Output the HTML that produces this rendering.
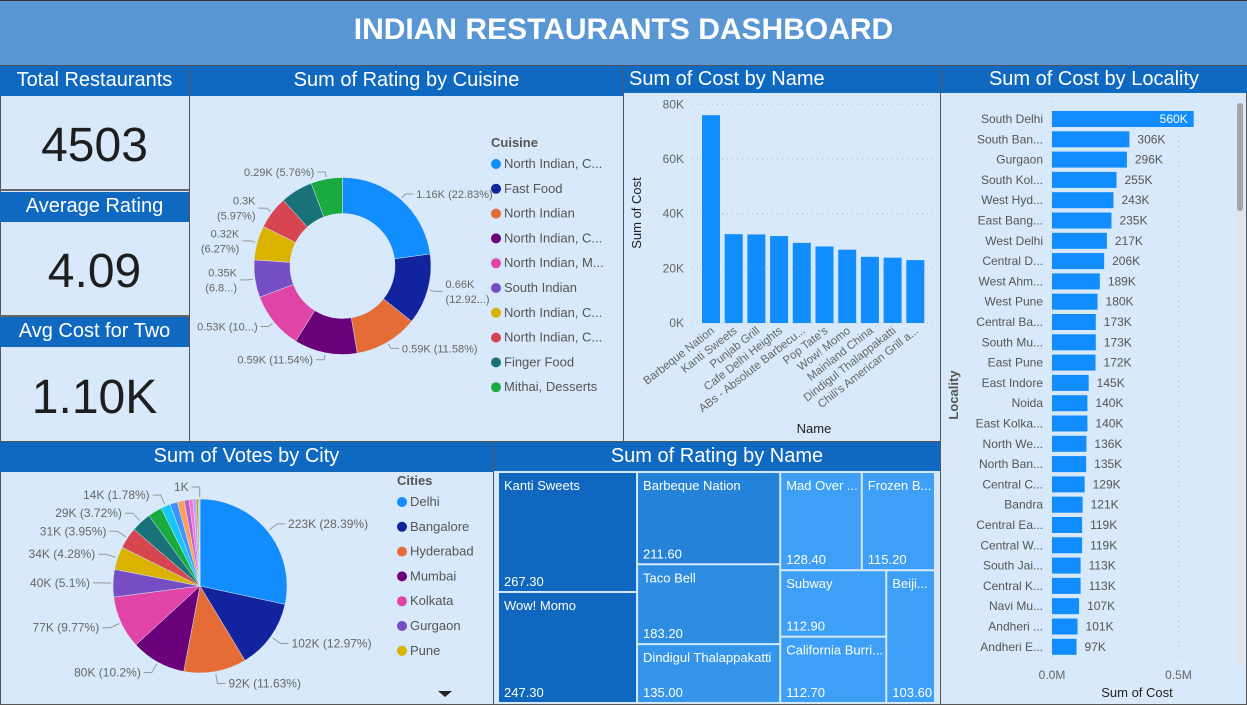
<!DOCTYPE html>
<html><head><meta charset="utf-8">
<style>
*{margin:0;padding:0;box-sizing:border-box}
body{width:1247px;height:705px;background:#d7e9fb;font-family:"Liberation Sans",sans-serif;position:relative;overflow:hidden}
.abs{position:absolute}
.hdr{left:0;top:0;width:1247px;height:65px;background:#5897d3;border-top:1px solid #333;color:#fff;font-weight:bold;font-size:30px;text-align:center;line-height:58px}
.ttl{background:#1069c0;color:#fff;font-size:20px;text-align:center;white-space:nowrap}
.panel{background:#d7e9fb;border:1px solid #555}
.kpi{color:#1e1e1e;text-align:center;font-size:48px}
svg text{font-family:"Liberation Sans",sans-serif}
</style></head><body>
<div class="abs hdr">INDIAN RESTAURANTS DASHBOARD</div>

<div class="abs panel" style="left:0;top:65px;width:190px;height:377px"></div>
<div class="abs ttl" style="left:0;top:66px;width:189px;height:30px;line-height:29px">Total Restaurants</div>
<div class="abs kpi" style="left:0;top:118px;width:189px">4503</div>
<div class="abs" style="left:0;top:189px;width:189px;height:2px;background:#666"></div>
<div class="abs ttl" style="left:0;top:192px;width:189px;height:30px;line-height:29px">Average Rating</div>
<div class="abs kpi" style="left:0;top:244px;width:189px">4.09</div>
<div class="abs" style="left:0;top:315px;width:189px;height:2px;background:#666"></div>
<div class="abs ttl" style="left:0;top:317px;width:189px;height:30px;line-height:29px">Avg Cost for Two</div>
<div class="abs kpi" style="left:0;top:370px;width:189px">1.10K</div>

<div class="abs panel" style="left:189px;top:65px;width:435px;height:377px"></div>
<div class="abs ttl" style="left:190px;top:66px;width:433px;height:30px;line-height:29px">Sum of Rating by Cuisine</div>
<svg class="abs" id="donut" style="left:190px;top:96px" width="433" height="344"></svg>

<div class="abs panel" style="left:623px;top:65px;width:318px;height:377px"></div>
<div class="abs ttl" style="left:624px;top:66px;width:316px;height:27px;line-height:26px;text-align:left;padding-left:5px">Sum of Cost by Name</div>
<svg class="abs" id="bars" style="left:623px;top:93px" width="317" height="348"></svg>

<div class="abs panel" style="left:940px;top:65px;width:307px;height:640px"></div>
<div class="abs ttl" style="left:941px;top:66px;width:306px;height:27px;line-height:27px">Sum of Cost by Locality</div>
<svg class="abs" id="loc" style="left:940px;top:93px" width="307" height="612"></svg>

<div class="abs panel" style="left:0;top:441px;width:494px;height:264px"></div>
<div class="abs ttl" style="left:0;top:442px;width:493px;height:30px;line-height:29px">Sum of Votes by City</div>
<svg class="abs" id="pie" style="left:0;top:472px" width="493" height="233"></svg>

<div class="abs panel" style="left:493px;top:441px;width:448px;height:264px"></div>
<div class="abs ttl" style="left:494px;top:442px;width:446px;height:29px;line-height:28px">Sum of Rating by Name</div>
<svg class="abs" id="tree" style="left:493px;top:471px" width="447" height="234"></svg>

<script>
const cuisineNames=["North Indian,  C...","Fast Food","North Indian","North Indian,  C...","North Indian,  M...","South Indian","North Indian,  C...","North Indian,  C...","Finger Food","Mithai,  Desserts"];
const cuisinePct=[22.83,12.92,11.58,11.54,10.4,6.83,6.27,5.97,5.9,5.76];
const cuisineLabels=["1.16K (22.83%)","0.66K|(12.92...)","0.59K (11.58%)","0.59K (11.54%)","0.53K (10...)","0.35K|(6.8...)","0.32K|(6.27%)","0.3K|(5.97%)","","0.29K (5.76%)"];
const barNames=["Barbeque Nation","Kanti Sweets","Punjab Grill","Cafe Delhi Heights","ABs - Absolute Barbecu...","Pop Tate's","Wow! Momo","Mainland China","Dindigul Thalappakatti","Chili's American Grill a..."];
const barValues=[76000,32500,32400,31800,29300,28000,26800,24200,23900,23000];
const barTicks=[0,20000,40000,60000,80000];
const barTickLabels=["0K","20K","40K","60K","80K"];
const locNames=["South Delhi","South Ban...","Gurgaon","South Kol...","West Hyd...","East Bang...","West Delhi","Central D...","West Ahm...","West Pune","Central Ba...","South Mu...","East Pune","East Indore","Noida","East Kolka...","North We...","North Ban...","Central C...","Bandra","Central Ea...","Central W...","South Jai...","Central K...","Navi Mu...","Andheri ...","Andheri E..."];
const locValues=[560,306,296,255,243,235,217,206,189,180,173,173,172,145,140,140,136,135,129,121,119,119,113,113,107,101,97];
const locTicks=[0,500];
const locTickLabels=["0.0M","0.5M"];
const cityNames=["Delhi","Bangalore","Hyderabad","Mumbai","Kolkata","Gurgaon","Pune"];
const cityPct=[28.39,12.97,11.63,10.2,9.77,5.1,4.28,3.95,3.72,2.6,1.78,1.4,1.3,0.9,0.7,0.6,0.4,0.2,0.11];
const cityLabels=["223K (28.39%)","102K (12.97%)","92K (11.63%)","80K (10.2%)","77K (9.77%)","40K (5.1%)","34K (4.28%)","31K (3.95%)","29K (3.72%)","","14K (1.78%)","","","","","","","","1K"];
const treeNames=["Kanti Sweets","Wow! Momo","Barbeque Nation","Taco Bell","Dindigul Thalappakatti","Mad Over ...","Frozen B...","Subway","California Burri...","Beiji..."];
const treeValues=[267.3,247.3,211.6,183.2,135.0,128.4,115.2,112.9,112.7,103.6];
const treeLabels=["267.30","247.30","211.60","183.20","135.00","128.40","115.20","112.90","112.70","103.60"];

const PAL=["#118DFF","#12239E","#E66C37","#6B007B","#E044A7","#744EC2","#D9B300","#D64550","#197278","#1AAB40","#15C6F4","#4092FF","#FFA058","#BE5DC9","#F472D0","#B5A1FF","#C4A200","#FF8080","#00DBBC","#5BD667"];
const NS="http://www.w3.org/2000/svg";
function mk(parent,tag,attrs,text){const e=document.createElementNS(NS,tag);for(const k in attrs)e.setAttribute(k,attrs[k]);if(text!==undefined)e.textContent=text;parent.appendChild(e);return e;}
function arcPath(cx,cy,r0,r1,a0,a1){
  const p=(r,a)=>[cx+r*Math.sin(a),cy-r*Math.cos(a)];
  const lg=(a1-a0)>Math.PI?1:0;
  const [x1,y1]=p(r1,a0),[x2,y2]=p(r1,a1);
  if(r0<=0)return `M${cx},${cy}L${x1},${y1}A${r1},${r1} 0 ${lg} 1 ${x2},${y2}Z`;
  const [x3,y3]=p(r0,a1),[x4,y4]=p(r0,a0);
  return `M${x1},${y1}A${r1},${r1} 0 ${lg} 1 ${x2},${y2}L${x3},${y3}A${r0},${r0} 0 ${lg} 0 ${x4},${y4}Z`;
}
function pieChart(svg,cx,cy,r0,r1,pcts,labels,nm,fs,lead){
  const tot=pcts.reduce((a,b)=>a+b,0);let a=0;
  pcts.forEach((v,i)=>{
    const a0=a,a1=a+v/tot*2*Math.PI;a=a1;
    const s=mk(svg,'path',{d:arcPath(cx,cy,r0,r1,a0,a1),fill:PAL[i%PAL.length],stroke:'#d7e9fb','stroke-width':0.5});
    
    
    const lab=labels[i];if(!lab)return;
    const m=(a0+a1)/2,sx=Math.sin(m),sy=-Math.cos(m);
    const x1=cx+(r1+2)*sx,y1=cy+(r1+2)*sy,x2=cx+(r1+lead)*sx,y2=cy+(r1+lead)*sy;
    const dir=sx>=0?1:-1,x3=x2+dir*8;
    mk(svg,'polyline',{points:`${x1},${y1} ${x2},${y2} ${x3},${y2}`,fill:'none',stroke:'#999','stroke-width':1});
    const parts=lab.split('|');
    parts.forEach((t,j)=>{
      const tx=mk(svg,'text',{x:x3+dir*3,y:y2+4+(j-(parts.length-1)/2)*15,'font-size':fs,fill:'#666','text-anchor':dir>0?'start':'end'},t);
      
      
    });
  });
}
function legend(svg,x,y,title,names,nm){
  const t=mk(svg,'text',{x:x,y:y,'font-size':13,'font-weight':'bold',fill:'#555'},title);
  
  
  names.forEach((n,i)=>{
    const g=mk(svg,'g',{});
    
    
    mk(g,'circle',{cx:x+5,cy:y+21+i*24.8-4,r:5,fill:PAL[i]});
    mk(g,'text',{x:x+13,y:y+21+i*24.8,'font-size':13,fill:'#555'},n);
  });
}
const dn=document.getElementById('donut');
pieChart(dn,152.5,170,52.5,88.5,cuisinePct,cuisineLabels,'cuisine',11,7);
legend(dn,301,51,'Cuisine',cuisineNames,'cuisine');
const pi=document.getElementById('pie');
pieChart(pi,200,114,0,87,cityPct,cityLabels,'city',12,12);
legend(pi,397,13,'Cities',cityNames,'city');
const arr=mk(pi,'path',{d:'M438,219 L452,219 L445,225 Z',fill:'#222'});



(function(){
  const s=document.getElementById('bars');
  const y0=230,yTop=11.3,maxV=80000;
  const ys=v=>y0-(v/maxV)*(y0-yTop);
  const x0=79,pitch=22.7,bw=18;
  barTicks.forEach((t,i)=>{
    mk(s,'line',{x1:69,x2:312,y1:ys(t),y2:ys(t),stroke:'#bbb','stroke-dasharray':'1,4'});
    const tx=mk(s,'text',{x:61,y:ys(t)+4,'font-size':12,fill:'#666','text-anchor':'end'},barTickLabels[i]);
    
    
  });
  barValues.forEach((v,i)=>{
    const x=x0+i*pitch;
    const r=mk(s,'rect',{x:x,y:ys(v),width:bw,height:y0-ys(v),fill:'#118DFF'});
    
    
    const cx=x+bw/2+4;
    const t=mk(s,'text',{x:cx,y:y0+9,'font-size':11.5,fill:'#666','text-anchor':'end',transform:`rotate(-38 ${cx} ${y0+9})`},barNames[i]);
    
    
  });
  const yt=mk(s,'text',{x:18,y:120,'font-size':13,fill:'#222','text-anchor':'middle',transform:'rotate(-90 18 120)'},'Sum of Cost');
  
  
  const xt=mk(s,'text',{x:191,y:340,'font-size':13,fill:'#222','text-anchor':'middle'},'Name');
  
  
})();

(function(){
  const s=document.getElementById('loc');
  const x0=112,xs=v=>x0+v/500*126.5,rowY=i=>26+i*20.3,bh=16;
  locTicks.forEach((t,i)=>{
    mk(s,'line',{x1:xs(t),x2:xs(t),y1:8,y2:568,stroke:'#bbb','stroke-dasharray':'1,4'});
    const tx=mk(s,'text',{x:xs(t),y:586,'font-size':12,fill:'#666','text-anchor':'middle'},locTickLabels[i]);
    
    
  });
  locValues.forEach((v,i)=>{
    const y=rowY(i);
    const r=mk(s,'rect',{x:x0,y:y-bh/2,width:xs(v)-x0,height:bh,fill:'#118DFF'});
    
    
    const l=mk(s,'text',{x:103,y:y+4,'font-size':12,fill:'#555','text-anchor':'end'},locNames[i]);
    
    
    const inside=i===0;
    const vt=mk(s,'text',{x:inside?xs(v)-6:xs(v)+8,y:y+4,'font-size':12,fill:inside?'#fff':'#555','text-anchor':inside?'end':'start'},v+'K');
    
    
  });
  const yt=mk(s,'text',{x:18,y:302,'font-size':13,'font-weight':'bold',fill:'#555','text-anchor':'middle',transform:'rotate(-90 18 302)'},'Locality');
  
  
  const xt=mk(s,'text',{x:197,y:604,'font-size':13,fill:'#222','text-anchor':'middle'},'Sum of Cost');
  
  
  mk(s,'rect',{x:297,y:10,width:6,height:562,rx:3,fill:'#e4e4e4'});
  const sb=mk(s,'rect',{x:297,y:10,width:6,height:108,rx:3,fill:'#a6a6a6'});
  
  
})();

(function(){
  const s=document.getElementById('tree');
  const layout={dir:'h',kids:[{dir:'v',kids:[0,1]},{dir:'v',kids:[2,3,4]},{dir:'v',kids:[{dir:'h',kids:[5,6]},{dir:'h',kids:[{dir:'v',kids:[7,8]},9]}]}]};
  const colors=["#1067bf","#1067bf","#2483d8","#2d8de0","#3495ea","#3d9ff5","#3d9ff5","#3d9ff5","#3d9ff5","#3d9ff5"];
  const sum=n=>typeof n==='number'?treeValues[n]:n.kids.reduce((a,k)=>a+sum(k),0);
  function place(n,x,y,w,h){
    if(typeof n==='number'){
      const g=mk(s,'g',{});
      
      
      mk(g,'rect',{x:x+1,y:y+1,width:w-2,height:h-2,fill:colors[n]});
      mk(g,'text',{x:x+6,y:y+18,'font-size':13,fill:'#fff'},treeNames[n]);
      mk(g,'text',{x:x+6,y:y+h-6,'font-size':13,fill:'#fff'},treeLabels[n]);
      return;
    }
    const tot=sum(n);let off=0;
    n.kids.forEach(k=>{const f=sum(k)/tot;
      if(n.dir==='h'){place(k,x+off,y,w*f,h);off+=w*f;}else{place(k,x,y+off,w,h*f);off+=h*f;}});
  }
  place(layout,5,1,437,231);
})();
</script>
</body></html>
